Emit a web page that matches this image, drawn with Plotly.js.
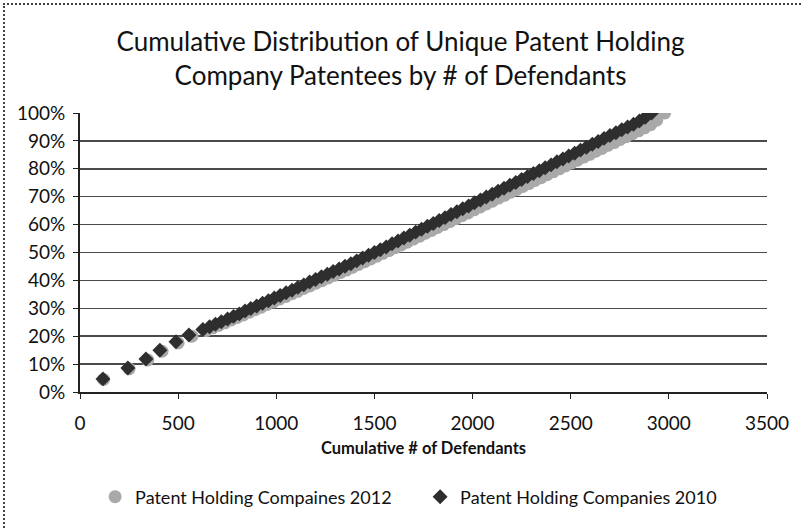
<!DOCTYPE html>
<html>
<head>
<meta charset="utf-8">
<script src="https://cdn.plot.ly/plotly-3.0.1.min.js"></script>
<style>
  body { margin: 0; background: #fff; }
  #wrap { position: relative; width: 801px; height: 528px; }
  #chart { width: 801px; height: 528px; }
  #frame { position: absolute; left: 3px; top: 3px; right: 0; bottom: 0;
           border-top: 2px dotted #444; border-left: 2px dotted #444; pointer-events: none; }
</style>
</head>
<body>
<div id="wrap"><div id="chart"></div><div id="frame"></div></div>
<script>
// Patent Holding Companies 2010 (dark diamonds)
const x2010 = [117,244,336,407,489,555,626,660,690,720,752,782,812,841,870,900,930,960,990,1020,1050,1080,1110,1140,1170,1200,1230,1260,1290,1320,1350,1380,1410,1440,1470,1500,1530,1560,1590,1620,1650,1680,1710,1740,1770,1800,1830,1860,1890,1920,1950,1980,2010,2040,2070,2100,2130,2160,2190,2220,2250,2280,2310,2340,2370,2400,2430,2460,2490,2520,2550,2580,2610,2640,2670,2700,2730,2760,2790,2820,2850,2880,2912];
const y2010 = [4.7,8.6,11.8,15.0,18.0,20.4,22.4,23.4,24.3,25.2,26.2,27.1,28.0,29.0,29.9,30.8,31.8,32.7,33.7,34.6,35.6,36.5,37.5,38.4,39.4,40.3,41.3,42.2,43.2,44.1,45.1,46.0,47.0,48.0,49.0,50.0,51.0,52.0,53.1,54.1,55.2,56.2,57.3,58.3,59.4,60.4,61.5,62.5,63.6,64.6,65.7,66.7,67.8,68.8,69.9,70.9,72.0,73.0,74.1,75.1,76.2,77.2,78.3,79.3,80.4,81.4,82.5,83.5,84.6,85.6,86.7,87.7,88.8,89.8,90.9,91.9,92.9,94.0,95.0,96.0,97.1,98.5,100];
// Patent Holding Compaines 2012 (gray circles)
const x2012 = [120,250,345,418,500,570,642,676,707,738,770,801,832,862,892,923,954,985,1016,1047,1078,1109,1140,1171,1202,1233,1264,1295,1326,1357,1388,1419,1450,1481,1512,1543,1574,1605,1636,1667,1698,1729,1760,1791,1822,1853,1884,1915,1946,1977,2008,2039,2070,2101,2132,2163,2194,2225,2256,2287,2318,2349,2380,2411,2442,2473,2504,2535,2566,2597,2628,2659,2690,2721,2752,2783,2814,2845,2876,2907,2938,2979];
const y2012 = [4.5,8.3,11.5,14.6,17.6,20.0,22.0,23.0,23.9,24.8,25.8,26.7,27.6,28.6,29.5,30.4,31.4,32.3,33.3,34.2,35.2,36.1,37.1,38.0,39.0,39.9,40.9,41.8,42.8,43.7,44.7,45.7,46.7,47.7,48.7,49.7,50.7,51.7,52.7,53.7,54.8,55.8,56.9,57.9,59.0,60.0,61.1,62.1,63.2,64.2,65.3,66.3,67.4,68.4,69.5,70.5,71.6,72.6,73.7,74.7,75.8,76.8,77.9,78.9,80.0,81.0,82.1,83.1,84.2,85.2,86.3,87.3,88.4,89.4,90.5,91.5,92.6,93.6,94.7,95.8,97.4,100];

const xTicks = [0,500,1000,1500,2000,2500,3000,3500];
const yTicks = [0,10,20,30,40,50,60,70,80,90,100];

const FONT = "Lato, 'Open Sans', sans-serif";

const traces = [
  { x: x2012, y: y2012, type: 'scatter', mode: 'markers', name: 'Patent Holding Compaines 2012',
    marker: { symbol: 'circle', size: 13, color: '#a9a9a9', line: { width: 0 } } },
  { x: x2010, y: y2010, type: 'scatter', mode: 'markers', name: 'Patent Holding Companies 2010',
    marker: { symbol: 'diamond', size: 11.5, color: '#2e2e2e', line: { width: 0 } } }
];

const layout = {
  width: 801, height: 528,
  margin: { l: 80, r: 34, t: 113, b: 136 },
  paper_bgcolor: '#fff', plot_bgcolor: '#fff',
  font: { family: FONT, color: '#111' },
  title: { text: 'Cumulative Distribution of Unique Patent Holding<br>Company Patentees by # of Defendants',
           font: { family: FONT, size: 26, color: '#111' },
           x: 0.5, xanchor: 'center', xref: 'container', y: 1 - 51/528, yanchor: 'middle', yref: 'container' },
  xaxis: {
    range: [0, 3500], tickvals: xTicks, ticktext: xTicks.map(String),
    showgrid: false, zeroline: false, showline: true, linecolor: '#222', linewidth: 2,
    ticks: 'outside', ticklen: 5, tickcolor: '#222', tickwidth: 1, ticklabelstandoff: 8,
    tickfont: { size: 19, family: FONT, color: '#111' },
    title: { text: '<b>Cumulative # of Defendants</b>', font: { size: 16.5, family: FONT, color: '#111' }, standoff: 10 }
  },
  yaxis: {
    range: [0, 100], tickvals: yTicks, ticktext: yTicks.map(v => v + '%'),
    showgrid: true, gridcolor: '#4a4a4a', gridwidth: 1.5, zeroline: false,
    showline: true, linecolor: '#222', linewidth: 2,
    ticks: 'outside', ticklen: 5, tickcolor: '#222', tickwidth: 1, ticklabelstandoff: 4,
    tickfont: { size: 19, family: FONT, color: '#111' }
  },
  showlegend: true,
  legend: { orientation: 'h', x: 0.022, xanchor: 'left', xref: 'paper', y: 1 - 497/528, yanchor: 'middle', yref: 'container',
            font: { size: 18, family: FONT, color: '#111' }, itemsizing: 'trace', itemwidth: 30,
            entrywidth: 280, entrywidthmode: 'pixels', traceorder: 'normal' }
};

Plotly.newPlot('chart', traces, layout, { displayModeBar: false, staticPlot: true });
</script>
</body>
</html>
